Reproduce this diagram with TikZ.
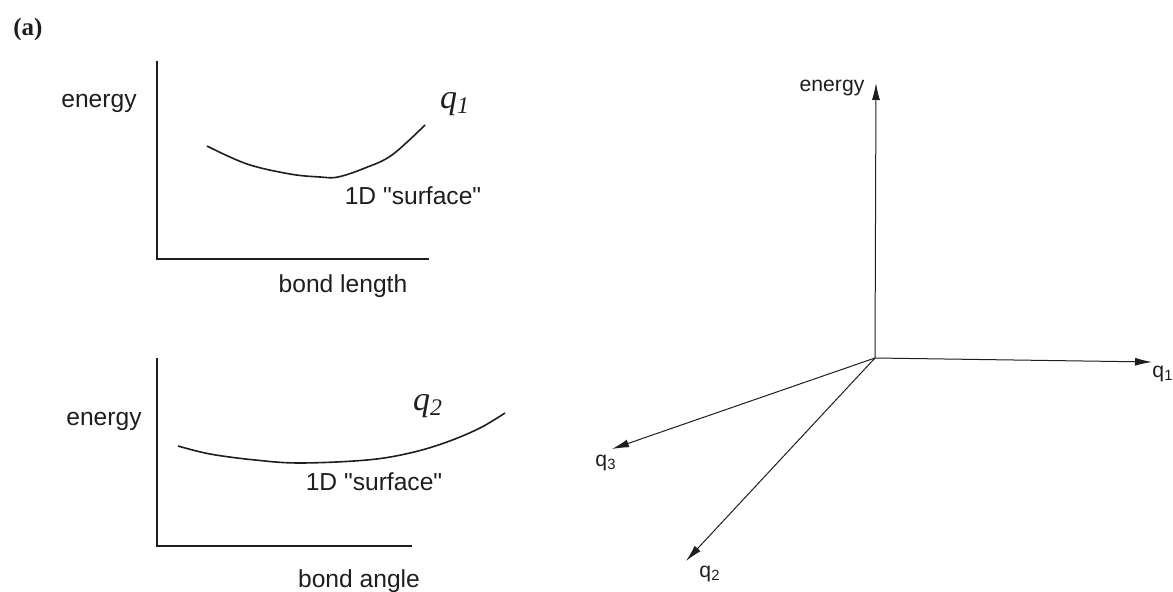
\documentclass[tikz,border=0pt]{standalone}
\usepackage{fontspec}
\setmainfont{Liberation Sans}
\newfontfamily\serifface{Liberation Serif}
\usetikzlibrary{positioning,arrows.meta}
\definecolor{inkgray}{RGB}{30, 30, 30}

\begin{document}
\begin{tikzpicture}[x=0.5pt, y=-0.5pt, inkgray,
        axis line/.style={line width=1pt},
        curve line/.style={line width=0.8pt},
        coord arrow/.style={line width=0.5pt, -{Latex[length=8.5pt, width=4pt]}},
        big label/.style={font=\fontsize{12.3}{14}\selectfont, inner sep=0pt},
        small label/.style={font=\fontsize{10.6}{12}\selectfont, inner sep=0pt},
        q label/.style={font=\serifface\itshape\fontsize{17}{19}\selectfont, inner sep=0pt}]

            \useasboundingbox (0,0) rectangle (1173,592);
            \node[font=\serifface\bfseries\fontsize{12.5}{14}\selectfont, inner sep=0pt] (tag) at (28,29) {(a)};

            % first 1D plot: bond length
            \coordinate (top1) at (157,61);
            \coordinate (corner1) at (157,259);
            \coordinate (right1) at (429,259);
            \draw[axis line] (top1) -- (corner1) -- (right1);
            \draw[curve line] plot[smooth, tension=0.6] coordinates
                {(207,146) (247,164) (290,174) (320,177) (338,177) (365,168) (392,155) (425,125)};
            \node[big label] (energy1) at (99,103) {energy};
            \node[q label] (qone) at (455,104) {q\textsubscript{\itshape 1}};
            \node[big label] (surface1) at (413,196) {1D \textquotedbl surface\textquotedbl};
            \node[big label] (length) at (343,286) {bond length};

            % second 1D plot: bond angle
            \coordinate (top2) at (157,358);
            \coordinate (corner2) at (157,546);
            \coordinate (right2) at (412,546);
            \draw[axis line] (top2) -- (corner2) -- (right2);
            \draw[curve line] plot[smooth, tension=0.6] coordinates
                {(178,446) (210,454) (255,460) (300,463) (367,460) (410,453) (447,442) (480,428) (505,413)};
            \node[big label] (energy2) at (104,421) {energy};
            \node[q label] (qtwo) at (428,406) {q\textsubscript{2}};
            \node[big label] (surface2) at (374,482) {1D \textquotedbl surface\textquotedbl};
            \node[big label] (angle) at (359,581) {bond angle};

            % coordinate frame of the multi-dimensional surface
            \coordinate (origin) at (875,358);
            \coordinate (tipE) at (876,83);
            \coordinate (tip1) at (1152,362);
            \coordinate (tip3) at (612,449);
            \coordinate (tip2) at (686,561);
            \path
                (origin) edge[coord arrow] (tipE)
                (origin) edge[coord arrow] (tip1)
                (origin) edge[coord arrow] (tip3)
                (origin) edge[coord arrow] (tip2);
            \node[small label] (energy3) at (832,88) {energy};
            \node[small label] (axis1) at (1163,374) {q\textsubscript{1}};
            \node[small label] (axis3) at (606,463) {q\textsubscript{3}};
            \node[small label] (axis2) at (710,574) {q\textsubscript{2}};

    \end{tikzpicture}
\end{document}
